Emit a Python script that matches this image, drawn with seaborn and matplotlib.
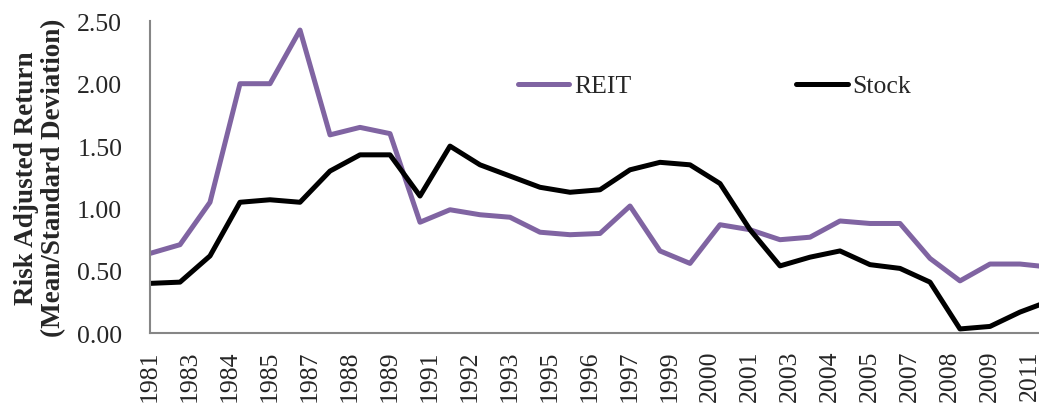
import numpy as np
import pandas as pd
import matplotlib
matplotlib.use("Agg")
import matplotlib.pyplot as plt
import seaborn as sns

years = list(range(1981, 2012))
reit = [0.64, 0.71, 1.05, 2.00, 2.00, 2.43, 1.59, 1.65, 1.60, 0.89,
        0.99, 0.95, 0.93, 0.81, 0.79, 0.80, 1.02, 0.66, 0.56, 0.87,
        0.83, 0.75, 0.77, 0.90, 0.88, 0.88, 0.60, 0.42, 0.555, 0.555, 0.53]
stock = [0.40, 0.41, 0.62, 1.05, 1.07, 1.05, 1.30, 1.43, 1.43, 1.10,
         1.50, 1.35, 1.26, 1.17, 1.13, 1.15, 1.31, 1.37, 1.35, 1.20,
         0.83, 0.54, 0.61, 0.66, 0.55, 0.52, 0.41, 0.035, 0.055, 0.17, 0.26]
tick_labels = ["1981", "1983", "1984", "1985", "1987", "1988", "1989", "1991",
               "1992", "1993", "1995", "1996", "1997", "1999", "2000", "2001",
               "2003", "2004", "2005", "2007", "2008", "2009", "2011"]
y_ticks = [0.0, 0.5, 1.0, 1.5, 2.0, 2.5]

df = pd.DataFrame({
    "year": years * 2,
    "value": reit + stock,
    "series": ["REIT"] * len(years) + ["Stock"] * len(years),
})

sns.set_style("white")
plt.rcParams["font.family"] = ["Liberation Serif", "DejaVu Serif"]

fig = plt.figure(figsize=(10.39, 4.10), dpi=100)
ax = fig.add_axes([150 / 1039, (410 - 334.3) / 410, 889 / 1039, 312 / 410])

sns.lineplot(data=df, x="year", y="value", hue="series",
             palette={"REIT": "#8064A2", "Stock": "#000000"},
             linewidth=3.6, ax=ax, legend=False)
for ln in ax.get_lines():
    ln.set_solid_joinstyle("round")
    ln.set_solid_capstyle("round")

ax.set_xlim(1981, 1981 + 889 / 30)
ax.set_ylim(0, 2.5)
xt = 1981 + np.arange(len(tick_labels)) * 4 / 3
ax.set_xticks(xt)
ax.set_xticklabels(tick_labels, rotation=90, fontsize=18.5)
ax.set_yticks(y_ticks)
ax.set_yticklabels([f"{v:.2f}" for v in y_ticks], fontsize=18.5)
ax.tick_params(axis="both", direction="out", length=6, width=1.3,
               color="#868686")
ax.tick_params(axis="x", pad=6)
ax.tick_params(axis="y", pad=14)

for side in ["top", "right"]:
    ax.spines[side].set_visible(False)
for side in ["left", "bottom"]:
    ax.spines[side].set_color("#868686")
    ax.spines[side].set_linewidth(1.5)

ax.set_xlabel("")
ax.set_ylabel("Risk Adjusted Return\n(Mean/Standard Deviation)",
              fontsize=19.5, fontweight="bold", linespacing=1.1, labelpad=8)

handles = [plt.Line2D([], [], color="#8064A2", lw=3.6, solid_capstyle="round"),
           plt.Line2D([], [], color="#000000", lw=3.6, solid_capstyle="round")]
fig.legend(handles, ["REIT", "Stock"], loc="center left",
           bbox_to_anchor=(518 / 1039, 1 - 87 / 410), ncol=2, frameon=False,
           fontsize=18.5, borderpad=0, borderaxespad=0, handlelength=2.0,
           handletextpad=0.2, columnspacing=6.4)

fig.savefig("out.png", dpi=100)
